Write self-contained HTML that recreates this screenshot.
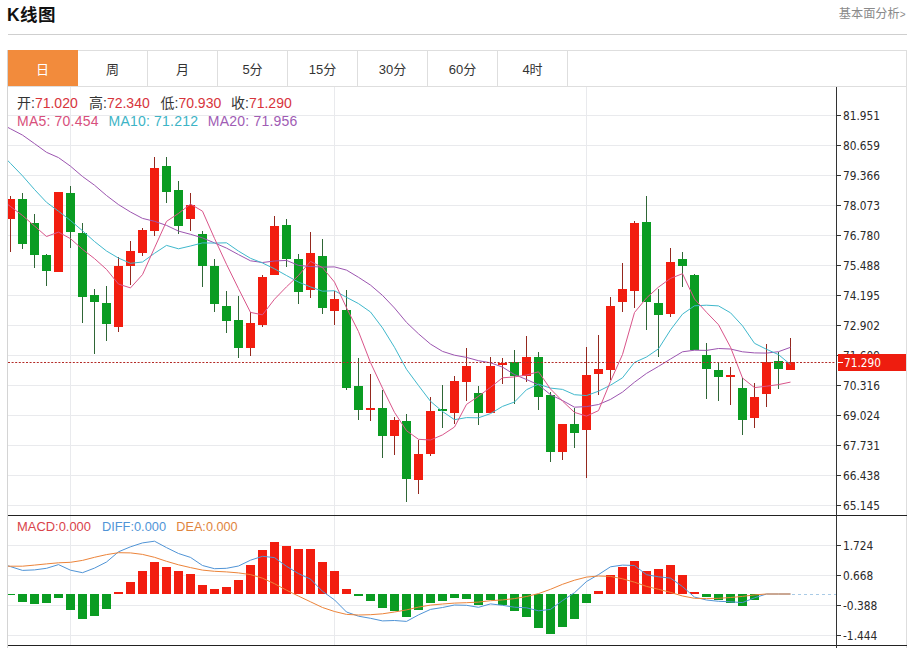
<!DOCTYPE html>
<html><head><meta charset="utf-8"><title>K线图</title>
<style>
html,body{margin:0;padding:0;background:#fff;}
body{width:910px;height:648px;overflow:hidden;position:relative;font-family:"Liberation Sans", "Noto Sans CJK SC", sans-serif;}
svg{position:absolute;left:0;top:0;}
</style></head><body>
<svg width="910" height="648" viewBox="0 0 910 648">
<defs><clipPath id="cp"><rect x="8" y="87" width="828" height="428"/></clipPath>
<clipPath id="cm"><rect x="8" y="516" width="828" height="129"/></clipPath></defs>

<text x="7" y="21.3" font-family='"Liberation Sans", "Noto Sans CJK SC", sans-serif' font-weight="bold" font-size="17.5" fill="#111" letter-spacing="0.4">K线图</text>
<text x="905.6" y="17.6" text-anchor="end" font-family='"Liberation Sans", "Noto Sans CJK SC", sans-serif' font-size="12.2" fill="#8a8a8a">基本面分析<tspan font-size="10">&gt;</tspan></text>
<rect x="8" y="34" width="899" height="1" fill="#cfcfcf"/>
<rect x="7" y="50" width="900" height="1" fill="#dedede"/>
<rect x="8" y="50" width="70" height="36" fill="#f28b3c"/>
<rect x="7" y="86" width="900" height="1" fill="#dedede"/>
<text x="42.5" y="73.5" text-anchor="middle" font-family='"Liberation Sans", "Noto Sans CJK SC", sans-serif' font-size="13" fill="#fff">日</text>
<text x="112.5" y="73.5" text-anchor="middle" font-family='"Liberation Sans", "Noto Sans CJK SC", sans-serif' font-size="13" fill="#333">周</text>
<rect x="147" y="51" width="1" height="35" fill="#dedede"/>
<text x="182.5" y="73.5" text-anchor="middle" font-family='"Liberation Sans", "Noto Sans CJK SC", sans-serif' font-size="13" fill="#333">月</text>
<rect x="217" y="51" width="1" height="35" fill="#dedede"/>
<text x="252.5" y="73.5" text-anchor="middle" font-family='"Liberation Sans", "Noto Sans CJK SC", sans-serif' font-size="13" fill="#333">5分</text>
<rect x="287" y="51" width="1" height="35" fill="#dedede"/>
<text x="322.5" y="73.5" text-anchor="middle" font-family='"Liberation Sans", "Noto Sans CJK SC", sans-serif' font-size="13" fill="#333">15分</text>
<rect x="357" y="51" width="1" height="35" fill="#dedede"/>
<text x="392.5" y="73.5" text-anchor="middle" font-family='"Liberation Sans", "Noto Sans CJK SC", sans-serif' font-size="13" fill="#333">30分</text>
<rect x="427" y="51" width="1" height="35" fill="#dedede"/>
<text x="462.5" y="73.5" text-anchor="middle" font-family='"Liberation Sans", "Noto Sans CJK SC", sans-serif' font-size="13" fill="#333">60分</text>
<rect x="497" y="51" width="1" height="35" fill="#dedede"/>
<text x="532.5" y="73.5" text-anchor="middle" font-family='"Liberation Sans", "Noto Sans CJK SC", sans-serif' font-size="13" fill="#333">4时</text>
<rect x="567" y="51" width="1" height="35" fill="#dedede"/>
<rect x="7" y="50" width="1" height="598" fill="#d4d4d4"/>
<rect x="906" y="50" width="1" height="598" fill="#dedede"/>
<rect x="8" y="115" width="828" height="1" fill="#e9eaed"/>
<rect x="8" y="145" width="828" height="1" fill="#e9eaed"/>
<rect x="8" y="175" width="828" height="1" fill="#e9eaed"/>
<rect x="8" y="205" width="828" height="1" fill="#e9eaed"/>
<rect x="8" y="235" width="828" height="1" fill="#e9eaed"/>
<rect x="8" y="265" width="828" height="1" fill="#e9eaed"/>
<rect x="8" y="295" width="828" height="1" fill="#e9eaed"/>
<rect x="8" y="325" width="828" height="1" fill="#e9eaed"/>
<rect x="8" y="355" width="828" height="1" fill="#e9eaed"/>
<rect x="8" y="385" width="828" height="1" fill="#e9eaed"/>
<rect x="8" y="415" width="828" height="1" fill="#e9eaed"/>
<rect x="8" y="445" width="828" height="1" fill="#e9eaed"/>
<rect x="8" y="475" width="828" height="1" fill="#e9eaed"/>
<rect x="8" y="505" width="828" height="1" fill="#e9eaed"/>
<rect x="70" y="87" width="1" height="558" fill="#e9eaed"/>
<rect x="334" y="87" width="1" height="558" fill="#e9eaed"/>
<rect x="586" y="87" width="1" height="558" fill="#e9eaed"/>
<rect x="8" y="545" width="828" height="1" fill="#e9eaed"/>
<rect x="8" y="575" width="828" height="1" fill="#e9eaed"/>
<rect x="8" y="605" width="828" height="1" fill="#e9eaed"/>
<rect x="8" y="635" width="828" height="1" fill="#e9eaed"/>
<g clip-path="url(#cp)" shape-rendering="crispEdges">
<rect x="10" y="196" width="1" height="56" fill="#94281e"/>
<rect x="6" y="199" width="9" height="20" fill="#f21d0f"/>
<rect x="22" y="193" width="1" height="56" fill="#2f6636"/>
<rect x="18" y="199" width="9" height="45" fill="#0a9c22"/>
<rect x="34" y="214" width="1" height="54" fill="#2f6636"/>
<rect x="30" y="223" width="9" height="32" fill="#0a9c22"/>
<rect x="46" y="254" width="1" height="32" fill="#2f6636"/>
<rect x="42" y="255" width="9" height="16" fill="#0a9c22"/>
<rect x="58" y="192" width="1" height="80" fill="#94281e"/>
<rect x="54" y="192" width="9" height="80" fill="#f21d0f"/>
<rect x="70" y="186" width="1" height="62" fill="#2f6636"/>
<rect x="66" y="193" width="9" height="39" fill="#0a9c22"/>
<rect x="82" y="223" width="1" height="100" fill="#2f6636"/>
<rect x="78" y="233" width="9" height="64" fill="#0a9c22"/>
<rect x="94" y="289" width="1" height="65" fill="#2f6636"/>
<rect x="90" y="295" width="9" height="7" fill="#0a9c22"/>
<rect x="106" y="286" width="1" height="55" fill="#2f6636"/>
<rect x="102" y="303" width="9" height="21" fill="#0a9c22"/>
<rect x="118" y="257" width="1" height="75" fill="#94281e"/>
<rect x="114" y="266" width="9" height="61" fill="#f21d0f"/>
<rect x="130" y="241" width="1" height="44" fill="#94281e"/>
<rect x="126" y="251" width="9" height="15" fill="#f21d0f"/>
<rect x="142" y="228" width="1" height="28" fill="#94281e"/>
<rect x="138" y="230" width="9" height="23" fill="#f21d0f"/>
<rect x="154" y="157" width="1" height="79" fill="#94281e"/>
<rect x="150" y="168" width="9" height="63" fill="#f21d0f"/>
<rect x="166" y="157" width="1" height="46" fill="#2f6636"/>
<rect x="162" y="166" width="9" height="26" fill="#0a9c22"/>
<rect x="178" y="181" width="1" height="53" fill="#2f6636"/>
<rect x="174" y="190" width="9" height="36" fill="#0a9c22"/>
<rect x="190" y="193" width="1" height="38" fill="#94281e"/>
<rect x="186" y="205" width="9" height="14" fill="#f21d0f"/>
<rect x="202" y="231" width="1" height="56" fill="#2f6636"/>
<rect x="198" y="234" width="9" height="32" fill="#0a9c22"/>
<rect x="214" y="259" width="1" height="53" fill="#2f6636"/>
<rect x="210" y="266" width="9" height="38" fill="#0a9c22"/>
<rect x="226" y="291" width="1" height="42" fill="#2f6636"/>
<rect x="222" y="306" width="9" height="15" fill="#0a9c22"/>
<rect x="238" y="296" width="1" height="62" fill="#2f6636"/>
<rect x="234" y="320" width="9" height="28" fill="#0a9c22"/>
<rect x="250" y="312" width="1" height="44" fill="#94281e"/>
<rect x="246" y="323" width="9" height="25" fill="#f21d0f"/>
<rect x="262" y="275" width="1" height="52" fill="#94281e"/>
<rect x="258" y="277" width="9" height="48" fill="#f21d0f"/>
<rect x="274" y="216" width="1" height="59" fill="#94281e"/>
<rect x="270" y="226" width="9" height="49" fill="#f21d0f"/>
<rect x="286" y="219" width="1" height="48" fill="#2f6636"/>
<rect x="282" y="225" width="9" height="34" fill="#0a9c22"/>
<rect x="298" y="254" width="1" height="50" fill="#2f6636"/>
<rect x="294" y="259" width="9" height="33" fill="#0a9c22"/>
<rect x="310" y="232" width="1" height="66" fill="#94281e"/>
<rect x="306" y="253" width="9" height="37" fill="#f21d0f"/>
<rect x="322" y="239" width="1" height="75" fill="#2f6636"/>
<rect x="318" y="256" width="9" height="52" fill="#0a9c22"/>
<rect x="334" y="291" width="1" height="34" fill="#94281e"/>
<rect x="330" y="299" width="9" height="12" fill="#f21d0f"/>
<rect x="346" y="290" width="1" height="100" fill="#2f6636"/>
<rect x="342" y="310" width="9" height="78" fill="#0a9c22"/>
<rect x="358" y="358" width="1" height="62" fill="#2f6636"/>
<rect x="354" y="386" width="9" height="24" fill="#0a9c22"/>
<rect x="370" y="374" width="1" height="47" fill="#94281e"/>
<rect x="366" y="408" width="9" height="2" fill="#f21d0f"/>
<rect x="382" y="390" width="1" height="68" fill="#2f6636"/>
<rect x="378" y="408" width="9" height="28" fill="#0a9c22"/>
<rect x="394" y="417" width="1" height="38" fill="#94281e"/>
<rect x="390" y="420" width="9" height="16" fill="#f21d0f"/>
<rect x="406" y="414" width="1" height="88" fill="#2f6636"/>
<rect x="402" y="421" width="9" height="58" fill="#0a9c22"/>
<rect x="418" y="440" width="1" height="54" fill="#94281e"/>
<rect x="414" y="454" width="9" height="26" fill="#f21d0f"/>
<rect x="430" y="397" width="1" height="59" fill="#94281e"/>
<rect x="426" y="411" width="9" height="43" fill="#f21d0f"/>
<rect x="442" y="385" width="1" height="43" fill="#2f6636"/>
<rect x="438" y="409" width="9" height="2" fill="#0a9c22"/>
<rect x="454" y="376" width="1" height="48" fill="#94281e"/>
<rect x="450" y="381" width="9" height="32" fill="#f21d0f"/>
<rect x="466" y="348" width="1" height="53" fill="#94281e"/>
<rect x="462" y="366" width="9" height="16" fill="#f21d0f"/>
<rect x="478" y="386" width="1" height="39" fill="#2f6636"/>
<rect x="474" y="393" width="9" height="20" fill="#0a9c22"/>
<rect x="490" y="357" width="1" height="56" fill="#94281e"/>
<rect x="486" y="366" width="9" height="47" fill="#f21d0f"/>
<rect x="502" y="358" width="1" height="26" fill="#94281e"/>
<rect x="498" y="363" width="9" height="2" fill="#f21d0f"/>
<rect x="514" y="350" width="1" height="54" fill="#2f6636"/>
<rect x="510" y="362" width="9" height="14" fill="#0a9c22"/>
<rect x="526" y="336" width="1" height="46" fill="#94281e"/>
<rect x="522" y="357" width="9" height="19" fill="#f21d0f"/>
<rect x="538" y="352" width="1" height="58" fill="#2f6636"/>
<rect x="534" y="357" width="9" height="40" fill="#0a9c22"/>
<rect x="550" y="392" width="1" height="70" fill="#2f6636"/>
<rect x="546" y="395" width="9" height="57" fill="#0a9c22"/>
<rect x="562" y="424" width="1" height="36" fill="#94281e"/>
<rect x="558" y="424" width="9" height="28" fill="#f21d0f"/>
<rect x="574" y="408" width="1" height="40" fill="#2f6636"/>
<rect x="570" y="424" width="9" height="9" fill="#0a9c22"/>
<rect x="586" y="347" width="1" height="131" fill="#94281e"/>
<rect x="582" y="375" width="9" height="55" fill="#f21d0f"/>
<rect x="598" y="335" width="1" height="60" fill="#94281e"/>
<rect x="594" y="369" width="9" height="5" fill="#f21d0f"/>
<rect x="610" y="297" width="1" height="83" fill="#94281e"/>
<rect x="606" y="306" width="9" height="64" fill="#f21d0f"/>
<rect x="622" y="263" width="1" height="49" fill="#94281e"/>
<rect x="618" y="289" width="9" height="13" fill="#f21d0f"/>
<rect x="634" y="221" width="1" height="87" fill="#94281e"/>
<rect x="630" y="223" width="9" height="68" fill="#f21d0f"/>
<rect x="646" y="196" width="1" height="134" fill="#2f6636"/>
<rect x="642" y="222" width="9" height="80" fill="#0a9c22"/>
<rect x="658" y="289" width="1" height="68" fill="#2f6636"/>
<rect x="654" y="303" width="9" height="12" fill="#0a9c22"/>
<rect x="670" y="248" width="1" height="69" fill="#94281e"/>
<rect x="666" y="262" width="9" height="52" fill="#f21d0f"/>
<rect x="682" y="252" width="1" height="35" fill="#2f6636"/>
<rect x="678" y="259" width="9" height="7" fill="#0a9c22"/>
<rect x="694" y="274" width="1" height="76" fill="#2f6636"/>
<rect x="690" y="275" width="9" height="75" fill="#0a9c22"/>
<rect x="706" y="343" width="1" height="56" fill="#2f6636"/>
<rect x="702" y="355" width="9" height="14" fill="#0a9c22"/>
<rect x="718" y="362" width="1" height="39" fill="#2f6636"/>
<rect x="714" y="370" width="9" height="7" fill="#0a9c22"/>
<rect x="730" y="367" width="1" height="38" fill="#94281e"/>
<rect x="726" y="375" width="9" height="2" fill="#f21d0f"/>
<rect x="742" y="378" width="1" height="57" fill="#2f6636"/>
<rect x="738" y="388" width="9" height="32" fill="#0a9c22"/>
<rect x="754" y="383" width="1" height="45" fill="#94281e"/>
<rect x="750" y="397" width="9" height="21" fill="#f21d0f"/>
<rect x="766" y="344" width="1" height="63" fill="#94281e"/>
<rect x="762" y="362" width="9" height="32" fill="#f21d0f"/>
<rect x="778" y="352" width="1" height="37" fill="#2f6636"/>
<rect x="774" y="361" width="9" height="8" fill="#0a9c22"/>
<rect x="790" y="338" width="1" height="32" fill="#94281e"/>
<rect x="786" y="362" width="9" height="8" fill="#f21d0f"/>
</g>
<g clip-path="url(#cp)" fill="none" stroke-width="1" stroke-linejoin="round">
<polyline points="-1.5,122.5 10.5,128.8 22.5,135.1 34.5,143.6 46.5,152.3 58.5,157.6 70.5,166.2 82.5,176.5 94.5,185.2 106.5,195.5 118.5,204.6 130.5,212.0 142.5,218.4 154.5,221.3 166.5,225.4 178.5,231.1 190.5,234.3 202.5,237.9 214.5,242.9 226.5,248.1 238.5,254.6 250.5,260.8 262.5,262.5 274.5,261.0 286.5,260.4 298.5,265.4 310.5,266.5 322.5,267.1 334.5,266.9 346.5,270.1 358.5,277.3 370.5,285.1 382.5,295.4 394.5,308.0 406.5,322.4 418.5,333.8 430.5,344.1 442.5,351.4 454.5,355.2 466.5,357.4 478.5,360.7 490.5,362.8 502.5,367.1 514.5,374.6 526.5,379.5 538.5,384.8 550.5,394.7 562.5,400.5 574.5,407.2 586.5,406.6 598.5,404.5 610.5,399.4 622.5,392.1 634.5,382.2 646.5,373.4 658.5,366.4 670.5,359.0 682.5,351.8 694.5,350.2 706.5,350.4 718.5,348.5 730.5,349.0 742.5,351.8 754.5,352.9 766.5,353.1 778.5,351.7 790.5,347.3" stroke="#9c55b0"/>
<polyline points="-1.5,151.0 10.5,163.4 22.5,175.8 34.5,189.5 46.5,202.3 58.5,211.2 70.5,220.5 82.5,230.8 94.5,241.5 106.5,251.0 118.5,258.1 130.5,263.3 142.5,262.0 154.5,253.3 166.5,245.4 178.5,248.8 190.5,246.0 202.5,242.9 214.5,243.1 226.5,242.8 238.5,251.1 250.5,258.3 262.5,263.0 274.5,268.8 286.5,275.5 298.5,282.1 310.5,286.9 322.5,291.2 334.5,290.7 346.5,297.3 358.5,303.6 370.5,312.0 382.5,327.9 394.5,347.3 406.5,369.3 418.5,385.5 430.5,401.3 442.5,411.5 454.5,419.7 466.5,417.6 478.5,417.8 490.5,413.6 502.5,406.4 514.5,402.0 526.5,389.7 538.5,384.1 550.5,388.1 562.5,389.4 574.5,394.7 586.5,395.6 598.5,391.2 610.5,385.2 622.5,377.8 634.5,362.4 646.5,357.0 658.5,348.8 670.5,329.9 682.5,314.1 694.5,305.8 706.5,305.2 718.5,305.9 730.5,312.8 742.5,325.8 754.5,343.3 766.5,349.3 778.5,354.6 790.5,364.6" stroke="#40b8cc"/>
<polyline points="-1.5,197.5 10.5,206.5 22.5,215.5 34.5,226.0 46.5,236.5 58.5,232.1 70.5,238.7 82.5,249.3 94.5,258.6 106.5,269.4 118.5,284.1 130.5,287.9 142.5,274.6 154.5,247.9 166.5,221.4 178.5,213.4 190.5,204.1 202.5,211.2 214.5,238.4 226.5,264.3 238.5,288.7 250.5,312.4 262.5,314.8 274.5,299.2 286.5,286.8 298.5,275.5 310.5,261.4 322.5,267.6 334.5,282.1 346.5,307.8 358.5,331.6 370.5,362.6 382.5,388.1 394.5,412.4 406.5,430.7 418.5,439.3 430.5,440.0 442.5,434.9 454.5,427.0 466.5,404.4 478.5,396.3 490.5,387.3 502.5,377.8 514.5,376.9 526.5,375.0 538.5,371.8 550.5,389.0 562.5,401.1 574.5,412.4 586.5,416.1 598.5,410.6 610.5,381.4 622.5,354.5 634.5,312.5 646.5,298.0 658.5,287.1 670.5,278.4 682.5,273.7 694.5,299.0 706.5,312.3 718.5,324.7 730.5,347.2 742.5,378.0 754.5,387.6 766.5,386.2 778.5,384.6 790.5,382.1" stroke="#d9558a"/>
</g>
<line x1="8" y1="362.5" x2="836" y2="362.5" stroke="#b32a26" stroke-width="1" stroke-dasharray="2,1.6"/>
<g clip-path="url(#cm)" shape-rendering="crispEdges">
<rect x="6" y="594" width="9" height="1" fill="#0a9c22"/>
<rect x="18" y="594" width="9" height="8" fill="#0a9c22"/>
<rect x="30" y="594" width="9" height="10" fill="#0a9c22"/>
<rect x="42" y="594" width="9" height="9" fill="#0a9c22"/>
<rect x="54" y="594" width="9" height="4" fill="#0a9c22"/>
<rect x="66" y="594" width="9" height="16" fill="#0a9c22"/>
<rect x="78" y="594" width="9" height="25" fill="#0a9c22"/>
<rect x="90" y="594" width="9" height="22" fill="#0a9c22"/>
<rect x="102" y="594" width="9" height="15" fill="#0a9c22"/>
<rect x="114" y="592" width="9" height="2" fill="#f21d0f"/>
<rect x="126" y="582" width="9" height="12" fill="#f21d0f"/>
<rect x="138" y="571" width="9" height="23" fill="#f21d0f"/>
<rect x="150" y="562" width="9" height="32" fill="#f21d0f"/>
<rect x="162" y="567" width="9" height="27" fill="#f21d0f"/>
<rect x="174" y="571" width="9" height="23" fill="#f21d0f"/>
<rect x="186" y="574" width="9" height="20" fill="#f21d0f"/>
<rect x="198" y="585" width="9" height="9" fill="#f21d0f"/>
<rect x="210" y="589" width="9" height="5" fill="#f21d0f"/>
<rect x="222" y="587" width="9" height="7" fill="#f21d0f"/>
<rect x="234" y="580" width="9" height="14" fill="#f21d0f"/>
<rect x="246" y="565" width="9" height="29" fill="#f21d0f"/>
<rect x="258" y="550" width="9" height="44" fill="#f21d0f"/>
<rect x="270" y="542" width="9" height="52" fill="#f21d0f"/>
<rect x="282" y="546" width="9" height="48" fill="#f21d0f"/>
<rect x="294" y="549" width="9" height="45" fill="#f21d0f"/>
<rect x="306" y="549" width="9" height="45" fill="#f21d0f"/>
<rect x="318" y="562" width="9" height="32" fill="#f21d0f"/>
<rect x="330" y="571" width="9" height="23" fill="#f21d0f"/>
<rect x="342" y="589" width="9" height="5" fill="#f21d0f"/>
<rect x="354" y="594" width="9" height="2" fill="#0a9c22"/>
<rect x="366" y="594" width="9" height="7" fill="#0a9c22"/>
<rect x="378" y="594" width="9" height="14" fill="#0a9c22"/>
<rect x="390" y="594" width="9" height="17" fill="#0a9c22"/>
<rect x="402" y="594" width="9" height="23" fill="#0a9c22"/>
<rect x="414" y="594" width="9" height="16" fill="#0a9c22"/>
<rect x="426" y="594" width="9" height="9" fill="#0a9c22"/>
<rect x="438" y="594" width="9" height="7" fill="#0a9c22"/>
<rect x="450" y="594" width="9" height="4" fill="#0a9c22"/>
<rect x="462" y="594" width="9" height="5" fill="#0a9c22"/>
<rect x="474" y="594" width="9" height="11" fill="#0a9c22"/>
<rect x="486" y="594" width="9" height="6" fill="#0a9c22"/>
<rect x="498" y="594" width="9" height="11" fill="#0a9c22"/>
<rect x="510" y="594" width="9" height="17" fill="#0a9c22"/>
<rect x="522" y="594" width="9" height="23" fill="#0a9c22"/>
<rect x="534" y="594" width="9" height="34" fill="#0a9c22"/>
<rect x="546" y="594" width="9" height="40" fill="#0a9c22"/>
<rect x="558" y="594" width="9" height="33" fill="#0a9c22"/>
<rect x="570" y="594" width="9" height="25" fill="#0a9c22"/>
<rect x="582" y="594" width="9" height="9" fill="#0a9c22"/>
<rect x="594" y="591" width="9" height="3" fill="#f21d0f"/>
<rect x="606" y="575" width="9" height="19" fill="#f21d0f"/>
<rect x="618" y="567" width="9" height="27" fill="#f21d0f"/>
<rect x="630" y="561" width="9" height="33" fill="#f21d0f"/>
<rect x="642" y="571" width="9" height="23" fill="#f21d0f"/>
<rect x="654" y="569" width="9" height="25" fill="#f21d0f"/>
<rect x="666" y="565" width="9" height="29" fill="#f21d0f"/>
<rect x="678" y="575" width="9" height="19" fill="#f21d0f"/>
<rect x="690" y="592" width="9" height="2" fill="#f21d0f"/>
<rect x="702" y="594" width="9" height="3" fill="#0a9c22"/>
<rect x="714" y="594" width="9" height="6" fill="#0a9c22"/>
<rect x="726" y="594" width="9" height="9" fill="#0a9c22"/>
<rect x="738" y="594" width="9" height="12" fill="#0a9c22"/>
<rect x="750" y="594" width="9" height="6" fill="#0a9c22"/>
</g>
<g clip-path="url(#cm)" fill="none" stroke-width="1" stroke-linejoin="round">
<polyline points="-1.5,562.8 10.5,566.6 22.5,570.4 34.5,569.9 46.5,568.3 58.5,564.6 70.5,570.2 82.5,572.7 94.5,568.1 106.5,562.0 118.5,551.8 130.5,546.8 142.5,542.9 154.5,541.2 166.5,547.6 178.5,553.5 190.5,557.4 202.5,565.5 214.5,568.7 226.5,568.3 238.5,566.0 250.5,560.2 262.5,556.3 274.5,557.6 286.5,566.3 298.5,573.6 310.5,579.1 322.5,591.3 334.5,599.9 346.5,612.0 358.5,616.2 370.5,618.3 382.5,620.9 394.5,620.5 406.5,621.4 418.5,614.9 430.5,609.4 442.5,607.5 454.5,605.0 466.5,605.3 478.5,607.3 490.5,603.9 502.5,605.3 514.5,607.2 526.5,607.8 538.5,610.8 550.5,609.4 562.5,600.6 574.5,592.7 586.5,581.5 598.5,574.6 610.5,566.8 622.5,565.1 634.5,565.5 646.5,574.7 658.5,576.8 670.5,578.1 682.5,586.6 694.5,597.1 706.5,600.0 718.5,601.3 730.5,601.8 742.5,602.6 754.5,597.8 766.5,594.0 778.5,594.0 790.5,594.0" stroke="#5094d6"/>
<polyline points="-1.5,566.3 10.5,566.2 22.5,566.2 34.5,565.1 46.5,563.9 58.5,562.8 70.5,562.3 82.5,560.4 94.5,557.3 106.5,554.6 118.5,552.7 130.5,552.9 142.5,554.4 154.5,557.3 166.5,561.3 178.5,564.8 190.5,567.6 202.5,570.1 214.5,571.3 226.5,571.9 238.5,572.9 250.5,574.6 262.5,578.2 274.5,583.7 286.5,590.2 298.5,596.1 310.5,601.8 322.5,607.5 334.5,611.5 346.5,614.4 358.5,615.0 370.5,614.7 382.5,613.8 394.5,612.0 406.5,609.9 418.5,607.1 430.5,605.1 442.5,604.0 454.5,603.1 466.5,602.7 478.5,602.1 490.5,600.7 502.5,599.9 514.5,598.6 526.5,596.5 538.5,593.6 550.5,589.3 562.5,584.3 574.5,580.2 586.5,577.1 598.5,576.0 610.5,576.4 622.5,578.8 634.5,582.2 646.5,586.4 658.5,589.3 670.5,592.4 682.5,596.0 694.5,598.3 706.5,598.6 718.5,598.3 730.5,597.5 742.5,596.4 754.5,594.9 766.5,594.0 778.5,594.0 790.5,594.0" stroke="#ec843a"/>
</g>
<line x1="792" y1="594.5" x2="836" y2="594.5" stroke="#a9cbe6" stroke-width="1" stroke-dasharray="3,3"/>
<rect x="8" y="515" width="899" height="1" fill="#222"/>
<rect x="8" y="645" width="899" height="1" fill="#222"/>
<rect x="836" y="87" width="1" height="561" fill="#333"/>
<rect x="837" y="115" width="4" height="1" fill="#333"/>
<text x="843" y="119.5" font-family='"DejaVu Sans Condensed", "DejaVu Sans", sans-serif' font-size="12" fill="#2a2a2a" textLength="36.95" lengthAdjust="spacingAndGlyphs">81.951</text>
<rect x="837" y="145" width="4" height="1" fill="#333"/>
<text x="843" y="149.5" font-family='"DejaVu Sans Condensed", "DejaVu Sans", sans-serif' font-size="12" fill="#2a2a2a" textLength="36.95" lengthAdjust="spacingAndGlyphs">80.659</text>
<rect x="837" y="175" width="4" height="1" fill="#333"/>
<text x="843" y="179.5" font-family='"DejaVu Sans Condensed", "DejaVu Sans", sans-serif' font-size="12" fill="#2a2a2a" textLength="36.95" lengthAdjust="spacingAndGlyphs">79.366</text>
<rect x="837" y="205" width="4" height="1" fill="#333"/>
<text x="843" y="209.5" font-family='"DejaVu Sans Condensed", "DejaVu Sans", sans-serif' font-size="12" fill="#2a2a2a" textLength="36.95" lengthAdjust="spacingAndGlyphs">78.073</text>
<rect x="837" y="235" width="4" height="1" fill="#333"/>
<text x="843" y="239.5" font-family='"DejaVu Sans Condensed", "DejaVu Sans", sans-serif' font-size="12" fill="#2a2a2a" textLength="36.95" lengthAdjust="spacingAndGlyphs">76.780</text>
<rect x="837" y="265" width="4" height="1" fill="#333"/>
<text x="843" y="269.5" font-family='"DejaVu Sans Condensed", "DejaVu Sans", sans-serif' font-size="12" fill="#2a2a2a" textLength="36.95" lengthAdjust="spacingAndGlyphs">75.488</text>
<rect x="837" y="295" width="4" height="1" fill="#333"/>
<text x="843" y="299.5" font-family='"DejaVu Sans Condensed", "DejaVu Sans", sans-serif' font-size="12" fill="#2a2a2a" textLength="36.95" lengthAdjust="spacingAndGlyphs">74.195</text>
<rect x="837" y="325" width="4" height="1" fill="#333"/>
<text x="843" y="329.5" font-family='"DejaVu Sans Condensed", "DejaVu Sans", sans-serif' font-size="12" fill="#2a2a2a" textLength="36.95" lengthAdjust="spacingAndGlyphs">72.902</text>
<rect x="837" y="355" width="4" height="1" fill="#333"/>
<text x="843" y="359.5" font-family='"DejaVu Sans Condensed", "DejaVu Sans", sans-serif' font-size="12" fill="#2a2a2a" textLength="36.95" lengthAdjust="spacingAndGlyphs">71.609</text>
<rect x="837" y="385" width="4" height="1" fill="#333"/>
<text x="843" y="389.5" font-family='"DejaVu Sans Condensed", "DejaVu Sans", sans-serif' font-size="12" fill="#2a2a2a" textLength="36.95" lengthAdjust="spacingAndGlyphs">70.316</text>
<rect x="837" y="415" width="4" height="1" fill="#333"/>
<text x="843" y="419.5" font-family='"DejaVu Sans Condensed", "DejaVu Sans", sans-serif' font-size="12" fill="#2a2a2a" textLength="36.95" lengthAdjust="spacingAndGlyphs">69.024</text>
<rect x="837" y="445" width="4" height="1" fill="#333"/>
<text x="843" y="449.5" font-family='"DejaVu Sans Condensed", "DejaVu Sans", sans-serif' font-size="12" fill="#2a2a2a" textLength="36.95" lengthAdjust="spacingAndGlyphs">67.731</text>
<rect x="837" y="475" width="4" height="1" fill="#333"/>
<text x="843" y="479.5" font-family='"DejaVu Sans Condensed", "DejaVu Sans", sans-serif' font-size="12" fill="#2a2a2a" textLength="36.95" lengthAdjust="spacingAndGlyphs">66.438</text>
<rect x="837" y="505" width="4" height="1" fill="#333"/>
<text x="843" y="509.5" font-family='"DejaVu Sans Condensed", "DejaVu Sans", sans-serif' font-size="12" fill="#2a2a2a" textLength="36.95" lengthAdjust="spacingAndGlyphs">65.145</text>
<rect x="838" y="354" width="68" height="17" fill="#ee1d0f"/>
<rect x="838" y="362" width="5" height="1" fill="#fff"/>
<text x="844" y="366.6" font-family='"DejaVu Sans Condensed", "DejaVu Sans", sans-serif' font-size="12.5" fill="#fff" textLength="36.95" lengthAdjust="spacingAndGlyphs">71.290</text>
<rect x="837" y="545" width="4" height="1" fill="#333"/>
<text x="843" y="549.5" font-family='"DejaVu Sans Condensed", "DejaVu Sans", sans-serif' font-size="12" fill="#2a2a2a" textLength="30.2" lengthAdjust="spacingAndGlyphs">1.724</text>
<rect x="837" y="575" width="4" height="1" fill="#333"/>
<text x="843" y="579.5" font-family='"DejaVu Sans Condensed", "DejaVu Sans", sans-serif' font-size="12" fill="#2a2a2a" textLength="30.2" lengthAdjust="spacingAndGlyphs">0.668</text>
<rect x="837" y="605" width="4" height="1" fill="#333"/>
<text x="843" y="609.5" font-family='"DejaVu Sans Condensed", "DejaVu Sans", sans-serif' font-size="12" fill="#2a2a2a" textLength="34.4" lengthAdjust="spacingAndGlyphs">-0.388</text>
<rect x="837" y="635" width="4" height="1" fill="#333"/>
<text x="843" y="639.5" font-family='"DejaVu Sans Condensed", "DejaVu Sans", sans-serif' font-size="12" fill="#2a2a2a" textLength="34.4" lengthAdjust="spacingAndGlyphs">-1.444</text>
<text x="17" y="108" font-family='"Liberation Sans", "Noto Sans CJK SC", sans-serif' font-size="14" fill="#333">开:<tspan fill="#d7343c">71.020</tspan></text>
<text x="89" y="108" font-family='"Liberation Sans", "Noto Sans CJK SC", sans-serif' font-size="14" fill="#333">高:<tspan fill="#d7343c">72.340</tspan></text>
<text x="160.5" y="108" font-family='"Liberation Sans", "Noto Sans CJK SC", sans-serif' font-size="14" fill="#333">低:<tspan fill="#d7343c">70.930</tspan></text>
<text x="231" y="108" font-family='"Liberation Sans", "Noto Sans CJK SC", sans-serif' font-size="14" fill="#333">收:<tspan fill="#d7343c">71.290</tspan></text>
<text x="17" y="126" font-family='"Liberation Sans", "Noto Sans CJK SC", sans-serif' font-size="14" fill="#d8507c" textLength="81.5" lengthAdjust="spacing">MA5: 70.454</text>
<text x="108.5" y="126" font-family='"Liberation Sans", "Noto Sans CJK SC", sans-serif' font-size="14" fill="#3db4c6" textLength="89.5" lengthAdjust="spacing">MA10: 71.212</text>
<text x="207.8" y="126" font-family='"Liberation Sans", "Noto Sans CJK SC", sans-serif' font-size="14" fill="#a05cb4" textLength="89.6" lengthAdjust="spacing">MA20: 71.956</text>
<text x="17" y="531" font-family='"Liberation Sans", "Noto Sans CJK SC", sans-serif' font-size="13" fill="#d9434a" textLength="74" lengthAdjust="spacingAndGlyphs">MACD:0.000</text>
<text x="102" y="531" font-family='"Liberation Sans", "Noto Sans CJK SC", sans-serif' font-size="13" fill="#5094d6" textLength="64" lengthAdjust="spacingAndGlyphs">DIFF:0.000</text>
<text x="176.3" y="531" font-family='"Liberation Sans", "Noto Sans CJK SC", sans-serif' font-size="13" fill="#e0843c" textLength="61.3" lengthAdjust="spacingAndGlyphs">DEA:0.000</text>
</svg>
</body></html>
